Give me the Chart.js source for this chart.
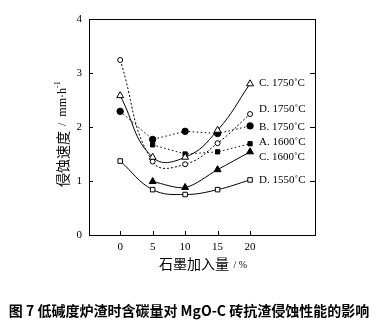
<!DOCTYPE html>
<html><head><meta charset="utf-8">
<script src="https://cdn.jsdelivr.net/npm/chart.js@4/dist/chart.umd.min.js"></script>
<style>html,body{margin:0;padding:0;background:#fff;}#wrap{width:381px;height:325px;position:relative;}</style>
</head><body><div id="wrap"><canvas id="c" width="381" height="325"></canvas></div>
<script>
const carbon = [0, 5, 10, 15, 20];
const xTicks = [0, 5, 10, 15, 20];
const yTicks = [0, 1, 2, 3, 4];
const seriesNames = ['C. 1750˚C', 'D. 1750˚C', 'B. 1750˚C', 'A. 1600˚C', 'C. 1600˚C', 'D. 1550˚C'];
const C1750 = [2.58, 1.44, 1.44, 1.94, 2.80];
const D1750 = [3.24, 1.36, 1.31, 1.70, 2.24];
const B1750 = [2.29, 1.77, 1.92, 1.88, 2.02];
const A1600 = [null, 1.67, 1.50, 1.54, 1.69];
const C1600 = [null, 0.99, 0.88, 1.21, 1.54];
const D1550 = [1.37, 0.84, 0.75, 0.84, 1.02];
const xTitle = '石墨加入量';
const xUnit = ' / %';
const yTitle = '侵蚀速度';
const yUnit = ' /  mm·h';
const caption = '图 7 低碱度炉渣时含碳量对 MgO-C 砖抗渣侵蚀性能的影响';

const allSeries = [C1750, D1750, B1750, A1600, C1600, D1550];
const styles = [
  {pointStyle:'triangle', fill:false, r:4, dash:[], tension:0.45},
  {pointStyle:'circle', fill:false, r:2.5, dash:[2,2], tension:0.45},
  {pointStyle:'circle', fill:true, r:3.2, dash:[1.5,2.5], tension:0},
  {pointStyle:'rect', fill:true, r:3, dash:[1.5,2.5], tension:0},
  {pointStyle:'triangle', fill:true, r:4, dash:[], tension:0.3},
  {pointStyle:'rect', fill:false, r:3.2, dash:[], tension:0.4}
];
const labelDy = [-1, -5, 1, -2, 5, 0];

const datasets = allSeries.map((vals, i) => ({
  label: seriesNames[i],
  data: carbon.map((x, j) => ({x: x, y: vals[j]})).filter(p => p.y !== null),
  borderColor: '#000', borderWidth: 1, borderDash: styles[i].dash,
  pointStyle: styles[i].pointStyle, pointRadius: styles[i].r,
  pointBackgroundColor: styles[i].fill ? '#000' : '#fff',
  pointBorderColor: '#000', pointBorderWidth: 1,
  tension: styles[i].tension, showLine: true
}));

const serif = '"Liberation Serif", "DejaVu Serif", serif';
const cjk = '"Noto Sans CJK SC", sans-serif';

const deco = {
  id: 'deco',
  afterDatasetsDraw(chart) {
    const ctx = chart.ctx, a = chart.chartArea;
    const xs = chart.scales.x, ys = chart.scales.y;
    ctx.save();
    ctx.strokeStyle = '#000'; ctx.lineWidth = 1; ctx.setLineDash([]);
    ctx.strokeRect(Math.round(a.left) + 0.5, Math.round(a.top) + 0.5, Math.round(a.right - a.left), Math.round(a.bottom - a.top));
    // inward ticks
    xTicks.forEach(v => { const px = Math.round(xs.getPixelForValue(v)) + 0.5; ctx.beginPath(); ctx.moveTo(px, a.bottom); ctx.lineTo(px, a.bottom - 4); ctx.stroke(); });
    yTicks.forEach(v => { const py = Math.round(ys.getPixelForValue(v)) + 0.5;
      ctx.beginPath(); ctx.moveTo(a.left, py); ctx.lineTo(a.left + 4, py); ctx.stroke();
      ctx.beginPath(); ctx.moveTo(a.right, py); ctx.lineTo(a.right - 5, py); ctx.stroke(); });
    // series labels
    ctx.fillStyle = '#000'; ctx.font = '11px ' + serif; ctx.textAlign = 'left'; ctx.textBaseline = 'middle';
    chart.data.datasets.forEach((ds, i) => {
      const meta = chart.getDatasetMeta(i); const el = meta.data[meta.data.length - 1];
      ctx.fillText(ds.label, el.x + 9, el.y + labelDy[i]);
    });
    // x title
    ctx.textBaseline = 'middle';
    ctx.font = '14px ' + cjk; const w1 = ctx.measureText(xTitle).width;
    ctx.font = '10px ' + serif; const w2 = ctx.measureText(xUnit).width;
    let sx = (a.left + a.right) / 2 - (w1 + w2) / 2;
    ctx.font = '14px ' + cjk; ctx.fillText(xTitle, sx, 264);
    ctx.font = '10px ' + serif; ctx.fillText(xUnit, sx + w1 + 2, 265);
    // y title rotated
    ctx.save(); ctx.translate(63, 187); ctx.rotate(-Math.PI / 2);
    ctx.font = '14px ' + cjk; ctx.fillText(yTitle, 0, 0); const t1 = ctx.measureText(yTitle).width;
    ctx.font = '12px ' + serif; ctx.fillText(yUnit, t1 + 2, 0); const t2 = ctx.measureText(yUnit).width;
    ctx.font = '8px ' + serif; ctx.fillText('-1', t1 + 2 + t2, -5);
    ctx.restore();
    // caption
    ctx.font = 'bold 14px ' + cjk; ctx.textAlign = 'center';
    ctx.fillText(caption, 189, 311);
    ctx.restore();
  }
};

new Chart(document.getElementById('c'), {
  type: 'scatter',
  data: {datasets},
  options: {
    responsive: false, animation: false, devicePixelRatio: 1,
    layout: {padding: {left: 0, right: 0, top: 19, bottom: 0}},
    plugins: {legend: {display: false}, tooltip: {enabled: false}},
    scales: {
      x: {type: 'linear', min: -4.8, max: 30,
        afterBuildTicks: s => { s.ticks = xTicks.map(v => ({value: v})); },
        afterFit: s => { s.height = 90; },
        grid: {display: false, drawTicks: false}, border: {display: false},
        ticks: {color: '#000', font: {family: serif, size: 11}, padding: 6, maxRotation: 0}},
      y: {type: 'linear', min: 0, max: 4,
        afterBuildTicks: s => { s.ticks = yTicks.map(v => ({value: v})); },
        afterFit: s => { s.width = 89; },
        grid: {display: false, drawTicks: false}, border: {display: false},
        ticks: {color: '#000', font: {family: serif, size: 11}, padding: 7}},
      y2: {type: 'linear', position: 'right', min: 0, max: 4, display: true,
        afterFit: s => { s.width = 66; },
        grid: {display: false, drawTicks: false}, border: {display: false},
        ticks: {display: false}}
    }
  },
  plugins: [deco]
});
</script></body></html>
